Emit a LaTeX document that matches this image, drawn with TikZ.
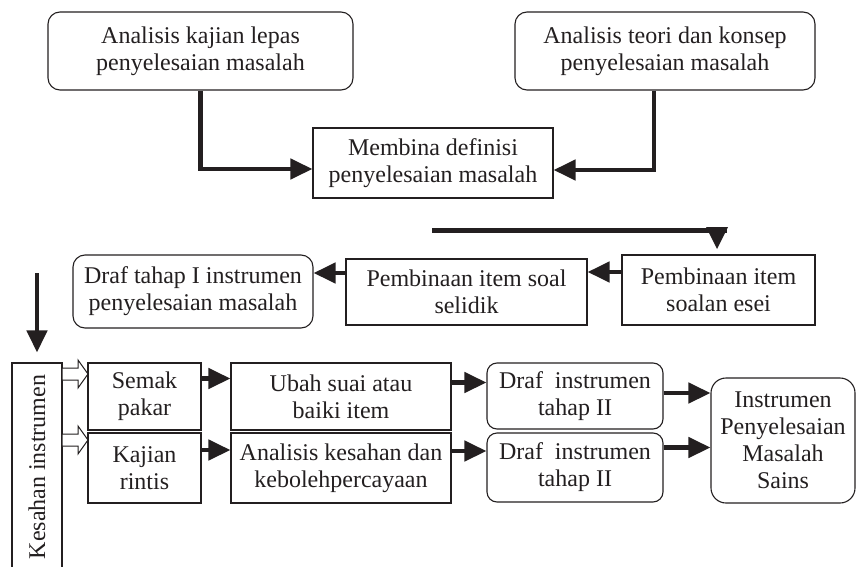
\documentclass[tikz,border=0pt]{standalone}
\usepackage{fontspec}
\setmainfont{Liberation Serif}
\usetikzlibrary{arrows.meta}
\definecolor{ink}{RGB}{35,31,32}
\begin{document}
\begin{tikzpicture}[x=1pt,y=-1pt,
  box/.style={draw=ink, line width=1.1pt, align=center, inner sep=0pt, text=ink,
    font=\fontsize{24}{27}\selectfont},
  rbox/.style={box, rounded corners=12pt},
  arr/.style={draw=ink, line width=4.8pt, -{Triangle[length=22pt,width=20pt]}},
  hollow/.style={draw=ink, line width=1pt, fill=white, line join=miter}
]
\useasboundingbox (0,0) rectangle (856,567);

% top row
\node[rbox, minimum width=305pt, minimum height=78pt] (A1) at (200.5,51) {Analisis kajian lepas\\penyelesaian masalah};
\node[rbox, minimum width=300pt, minimum height=78pt] (A2) at (665,51) {Analisis teori dan konsep\\penyelesaian masalah};
\node[box, minimum width=240pt, minimum height=70pt] (M) at (433,163) {Membina definisi\\penyelesaian masalah};

\draw[arr] (A1.south) |- ([yshift=-6pt]M.west);
\draw[arr] ([xshift=-11pt]A2.south) |- ([yshift=-7pt]M.east);

% long line with down triangle
\coordinate (L1) at (432,230);
\coordinate (L2) at (727,230);
\draw[ink, line width=5pt] (L1) -- (L2);
\coordinate (T1) at (706,227);
\coordinate (T2) at (728,227);
\coordinate (T3) at (717,249);
\fill[ink] (T1) -- (T2) -- (T3) -- cycle;

% second row
\node[box, minimum width=193pt, minimum height=70pt] (P1) at (718.5,290) {Pembinaan item\\soalan esei};
\node[box, minimum width=241pt, minimum height=66pt] (P2) at (466.5,292) {Pembinaan item soal\\selidik};
\node[rbox, minimum width=240pt, minimum height=73pt] (D1) at (193,291.5) {Draf tahap I instrumen\\penyelesaian masalah};

\draw[arr] ([yshift=18pt]P1.west) -- ([yshift=18pt]P1.west -| P2.east);
\draw[arr] ([yshift=19pt]P2.west) -- ([yshift=19pt]P2.west -| D1.east);

% validation column
\node[box, minimum width=50pt, minimum height=212pt] (K) at (37,469) {};
\node[text=ink, font=\fontsize{24}{27}\selectfont, rotate=90] (Kt) at (37,467) {Kesahan instrumen};
\coordinate (Dstart) at (37,273);
\draw[arr] (Dstart) -- ([yshift=10pt]K.north);

% hollow double arrows
\draw[hollow] (62,368) -- (78,368) -- (78,360) -- (88,374) -- (78,388) -- (78,380) -- (62,380) -- cycle;
\draw[hollow] (62,434) -- (78,434) -- (78,426) -- (88,440) -- (78,454) -- (78,446) -- (62,446) -- cycle;

\node[box, minimum width=113pt, minimum height=67pt] (S1) at (144.5,396.5) {Semak\\pakar};
\node[box, minimum width=113pt, minimum height=70pt] (S2) at (144.5,468) {Kajian\\rintis};
\node[box, minimum width=220pt, minimum height=67pt] (U1) at (341,396.5) {Ubah suai atau\\baiki item};
\node[box, minimum width=220pt, minimum height=70pt] (U2) at (341,468) {Analisis kesahan dan\\kebolehpercayaan};
\node[rbox, rounded corners=10pt, minimum width=176pt, minimum height=66pt] (R1) at (575,396) {Draf~ instrumen\\tahap II};
\node[rbox, rounded corners=10pt, minimum width=176pt, minimum height=69pt] (R2) at (575,467.5) {Draf~ instrumen\\tahap II};
\node[rbox, rounded corners=15pt, minimum width=144pt, minimum height=125pt] (F) at (783,440.5) {Instrumen\\Penyelesaian\\Masalah\\Sains};

\draw[arr] ([yshift=18pt]S1.east) -- ([yshift=18pt]S1.east -| U1.west);
\draw[arr] ([yshift=18pt]S2.east) -- ([yshift=18pt]S2.east -| U2.west);
\draw[arr] ([yshift=14pt]U1.east) -- ([yshift=14pt]U1.east -| R1.west);
\draw[arr] ([yshift=17pt]U2.east) -- ([yshift=17pt]U2.east -| R2.west);
\draw[arr] ([yshift=3pt]R1.east) -- ([yshift=3pt]R1.east -| F.west);
\draw[arr] ([yshift=20pt]R2.east) -- ([yshift=20pt]R2.east -| F.west);
\end{tikzpicture}
\end{document}
